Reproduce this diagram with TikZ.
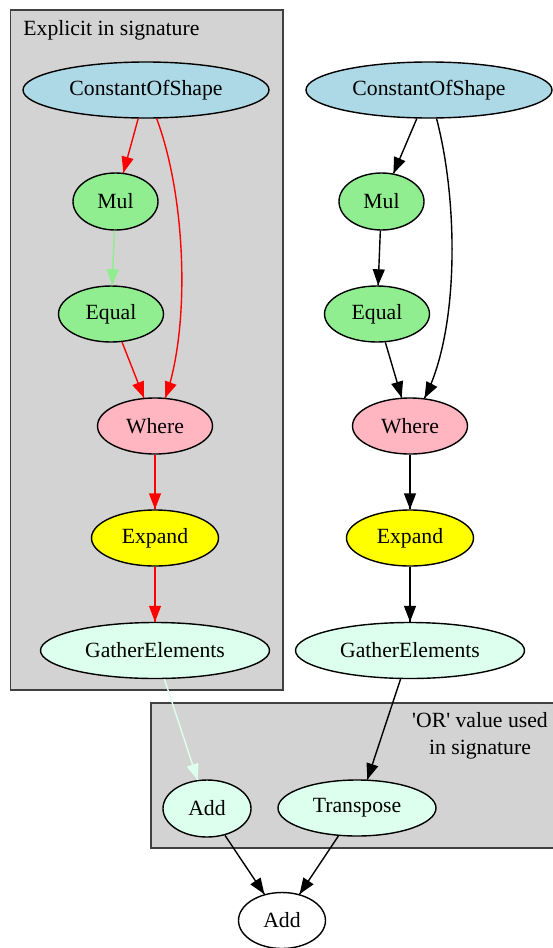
\documentclass[tikz,border=0pt]{standalone}
\usepackage{fontspec}
\setmainfont{Liberation Serif}
\usetikzlibrary{arrows.meta,decorations.markings,shapes.geometric}
\definecolor{clustergray}{HTML}{D3D3D3}
\definecolor{lightblue}{HTML}{ADD8E6}
\definecolor{lightgreen}{HTML}{90EE90}
\definecolor{lightpink}{HTML}{FFB6C1}
\definecolor{pureyellow}{HTML}{FFFF00}
\definecolor{mint}{HTML}{DCFFEE}
\tikzset{
    opnode/.style={ellipse,draw,line width=.7pt,inner sep=0pt,minimum height=28pt,font=\fontsize{10.85}{13}\selectfont},
    clusterbox/.style={draw=black!75,fill=clustergray,line width=.6pt},
    clustertitle/.style={inner sep=0pt,align=center,font=\fontsize{10.85}{13.5}\selectfont},
    edgefwd/.style={line width=.7pt,decoration={markings,mark=at position 1 with {\arrow{Triangle[length=8pt,width=6pt]}}},postaction={decorate}},
    cosnode/.style={opnode,fill=lightblue,minimum width=123pt},
    mulnode/.style={opnode,fill=lightgreen,minimum width=42.5pt,minimum height=28.5pt},
    eqnode/.style={opnode,fill=lightgreen,minimum width=52.5pt},
    wherenode/.style={opnode,fill=lightpink,minimum width=57.5pt},
    expnode/.style={opnode,fill=pureyellow,minimum width=63.5pt},
    genode/.style={opnode,fill=mint,minimum width=114.5pt}
}
\begin{document}
\begin{tikzpicture}[x=.5pt,y=-.5pt]
        \useasboundingbox (0,0) rectangle (552,948);

        % Explicit in signature cluster
        \draw[clusterbox] (10.5,10) rectangle (283,690);
        \node[clustertitle,anchor=west] (explicittitle) at (23,30) {Explicit in signature};
        \node[cosnode] (coslft) at (146,90) {ConstantOfShape};
        \node[mulnode] (mullft) at (115.5,201.5) {Mul};
        \node[eqnode] (eqlft) at (111,314) {Equal};
        \node[wherenode] (wherelft) at (155,426) {Where};
        \node[expnode] (explft) at (155,538) {Expand};
        \node[genode] (gelft) at (155,650.5) {GatherElements};

        % OR value cluster
        \draw[clusterbox] (151,703) rectangle (560,848);
        \node[clustertitle] (ortitle) at (480,736) {\textquotesingle OR\textquotesingle{} value used\\in signature};
        \node[opnode,fill=mint,minimum width=44pt,minimum height=28.5pt] (addin) at (207,808.5) {Add};
        \node[opnode,fill=mint,minimum width=79pt] (transp) at (357,808) {Transpose};

        % right chain
        \node[cosnode] (cosrgt) at (429,90) {ConstantOfShape};
        \node[mulnode] (mulrgt) at (381.5,201.5) {Mul};
        \node[eqnode] (eqrgt) at (377,314) {Equal};
        \node[wherenode] (wherergt) at (410,426) {Where};
        \node[expnode] (exprgt) at (410,538) {Expand};
        \node[genode] (gergt) at (410,650.5) {GatherElements};

        \node[opnode,fill=white,minimum width=43.5pt] (addout) at (282,920.5) {Add};

        % edges
        \draw[edgefwd,red] (coslft) -- (mullft);
        \draw[edgefwd,red] (coslft) .. controls (187,200) and (190,330) .. (wherelft);
        \draw[edgefwd,lightgreen] (mullft) -- (eqlft);
        \draw[edgefwd,red] (eqlft) -- (wherelft);
        \draw[edgefwd,red] (wherelft) -- (explft);
        \draw[edgefwd,red] (explft) -- (gelft);
        \draw[edgefwd,mint] (gelft) -- (addin);

        \draw[edgefwd] (cosrgt) -- (mulrgt);
        \draw[edgefwd] (cosrgt) .. controls (458,200) and (460,330) .. (wherergt);
        \draw[edgefwd] (mulrgt) -- (eqrgt);
        \draw[edgefwd] (eqrgt) -- (wherergt);
        \draw[edgefwd] (wherergt) -- (exprgt);
        \draw[edgefwd] (exprgt) -- (gergt);
        \draw[edgefwd] (gergt) -- (transp.70);

        \draw[edgefwd] (addin) -- (addout);
        \draw[edgefwd] (transp) -- (addout);
    \end{tikzpicture}
\end{document}
